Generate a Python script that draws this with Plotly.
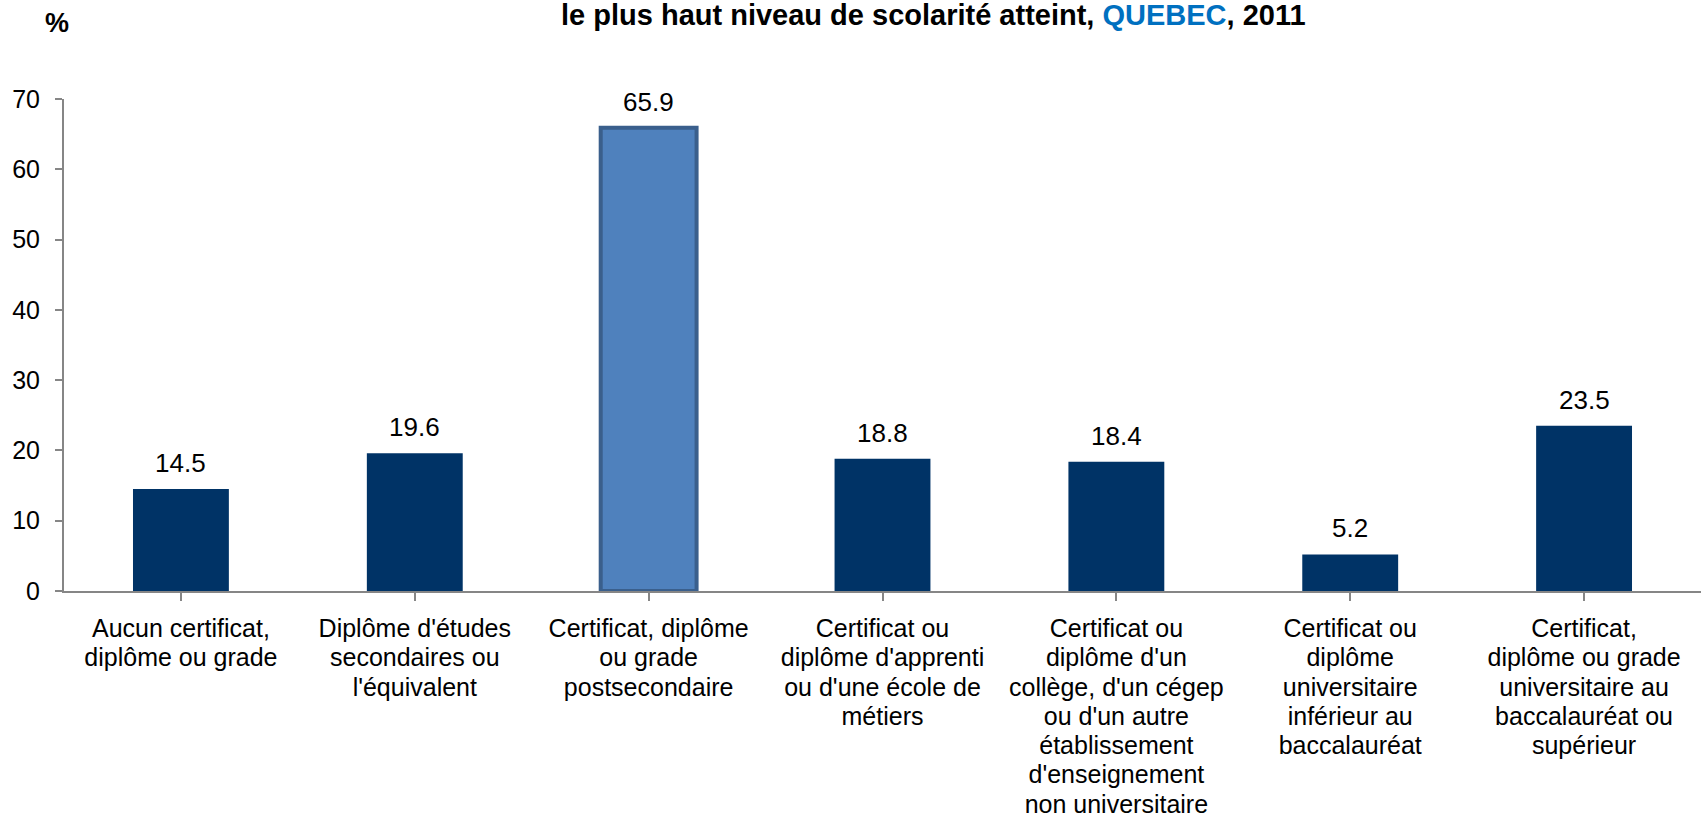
import plotly.graph_objects as go

categories = [
    "Aucun certificat,<br>diplôme ou grade",
    "Diplôme d'études<br>secondaires ou<br>l'équivalent",
    "Certificat, diplôme<br>ou grade<br>postsecondaire",
    "Certificat ou<br>diplôme d'apprenti<br>ou d'une école de<br>métiers",
    "Certificat ou<br>diplôme d'un<br>collège, d'un cégep<br>ou d'un autre<br>établissement<br>d'enseignement<br>non universitaire",
    "Certificat ou<br>diplôme<br>universitaire<br>inférieur au<br>baccalauréat",
    "Certificat,<br>diplôme ou grade<br>universitaire au<br>baccalauréat ou<br>supérieur",
]
values = [14.5, 19.6, 65.9, 18.8, 18.4, 5.2, 23.5]
value_labels = ["14.5", "19.6", "65.9", "18.8", "18.4", "5.2", "23.5"]
y_ticks = [0, 10, 20, 30, 40, 50, 60, 70]

FONT = "Liberation Sans, Arial, sans-serif"
DARK = "#003366"
LIGHT = "#4F81BD"
colors = [LIGHT if v == max(values) else DARK for v in values]
line_colors = ["#3A5F8C" if v == max(values) else DARK for v in values]
line_widths = [4 if v == max(values) else 0 for v in values]

xs = list(range(len(categories)))


def big_lines(label, px=25):
    return "<br>".join(f"<span style='font-size:{px}px'>{ln}</span>" for ln in label.split("<br>"))


tick_text = [big_lines(c) for c in categories]

fig = go.Figure()
fig.add_trace(go.Bar(
    x=xs, y=values, width=0.41,
    marker=dict(color=colors, line=dict(color=line_colors, width=line_widths)),
    hoverinfo="skip",
))

for x, v, t in zip(xs, values, value_labels):
    fig.add_annotation(x=x, y=v, xref="x", yref="y", text=t, showarrow=False,
                       yanchor="bottom", yshift=9,
                       font=dict(family=FONT, size=26, color="#000000"))

fig.add_annotation(xref="paper", yref="paper", x=0.531, y=1, yanchor="middle", xanchor="center", yshift=84,
                   text="<b>le plus haut niveau de scolarité atteint, <span style='color:#0070C0'>QUEBEC</span>, 2011</b>",
                   showarrow=False, font=dict(family=FONT, size=29, color="#000000"))
fig.add_annotation(xref="paper", yref="paper", x=-0.0043, y=1, yanchor="middle", xanchor="center", yshift=76,
                   text="<b>%</b>", showarrow=False,
                   font=dict(family=FONT, size=27, color="#000000"))

fig.update_layout(
    width=1701, height=819,
    margin=dict(l=64, r=0, t=99, b=228, autoexpand=False),
    paper_bgcolor="white", plot_bgcolor="white",
    showlegend=False,
    font=dict(family=FONT, color="#000000"),
)
fig.update_xaxes(
    tickmode="array", tickvals=xs, ticktext=tick_text,
    range=[-0.5, 6.5], automargin=False,
    showline=True, linecolor="#868686", linewidth=2,
    ticks="outside", tickson="boundaries", ticklen=8, tickcolor="#868686", tickwidth=2,
    showgrid=False, zeroline=False,
    tickfont=dict(family=FONT, size=22.5, color="#000000"),
    tickangle=0, ticklabelstandoff=9,
)
fig.update_yaxes(
    range=[0, 70], tickvals=y_ticks, automargin=False,
    showline=True, linecolor="#868686", linewidth=2,
    ticks="outside", ticklen=7, tickcolor="#868686", tickwidth=2,
    showgrid=False, zeroline=False,
    tickfont=dict(family=FONT, size=25, color="#000000"),
    ticklabelstandoff=10,
)

fig.write_html("out.html", config={"displayModeBar": False},
               post_script="document.body.style.margin='0';")
